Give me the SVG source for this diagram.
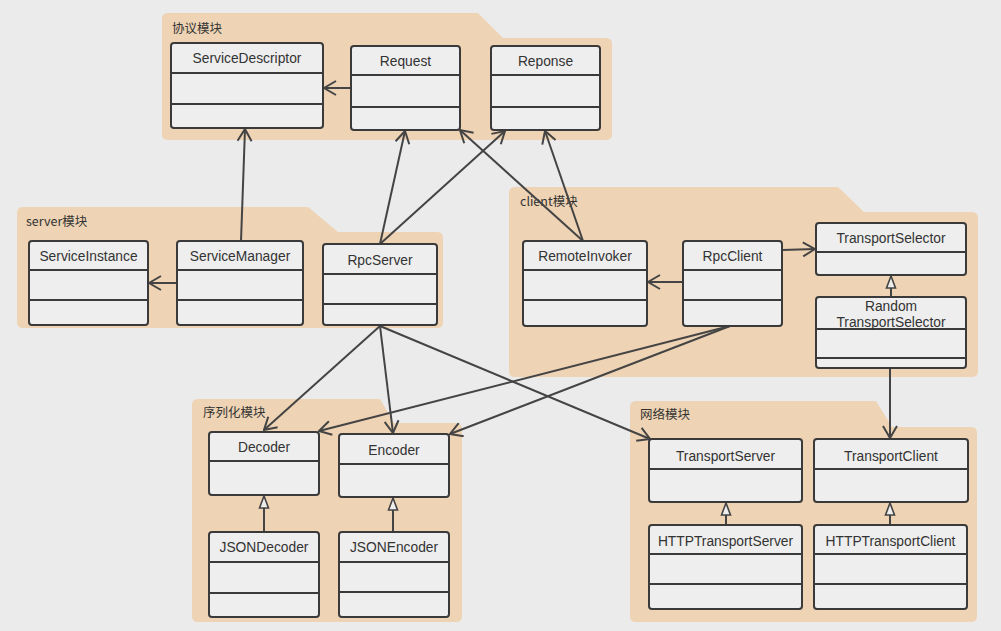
<svg xmlns="http://www.w3.org/2000/svg" width="1001" height="631" viewBox="0 0 1001 631">
<style>
.pkg{fill:#eed3b4;stroke:none}
.plabel{font-family:"Noto Sans CJK SC","Liberation Sans",sans-serif;font-size:12.5px;fill:#333}
.box{fill:#eeeeee;stroke:#3a3a3a;stroke-width:2}
.div{stroke:#3a3a3a;stroke-width:2}
.name{font-family:"Liberation Sans",Arial,sans-serif;font-size:13.8px;fill:#333;text-anchor:middle}
.conn{stroke:#444;stroke-width:2;fill:none}
.dep{marker-end:url(#open)}
.inh{marker-end:url(#tri)}
</style>
<defs>
<marker id="open" viewBox="0 0 14 16" refX="13" refY="8" markerWidth="14" markerHeight="16" markerUnits="userSpaceOnUse" orient="auto">
<path d="M1,1 L13,8 L1,15" fill="none" stroke="#444" stroke-width="2"/>
</marker>
<marker id="tri" viewBox="0 0 14 12" refX="13" refY="6" markerWidth="14" markerHeight="12" markerUnits="userSpaceOnUse" orient="auto">
<path d="M1,1.5 L13,6 L1,10.5 Z" fill="#eeeeee" stroke="#444" stroke-width="1.6"/>
</marker>
</defs>
<rect width="1001" height="631" fill="#ebebeb"/>

<g id="pkg-protocol">
<path class="pkg" d="M162,19 Q162,13 168,13 L478,13 L503,38 L606,38 Q612,38 612,44 L612,134 Q612,140 606,140 L168,140 Q162,140 162,134 Z"/>
<text class="plabel" x="172" y="33">协议模块</text>
</g>
<g id="pkg-server">
<path class="pkg" d="M17,213 Q17,207 23,207 L308,207 L338,232 L437,232 Q443,232 443,238 L443,322 Q443,328 437,328 L23,328 Q17,328 17,322 Z"/>
<text class="plabel" x="26" y="226">server模块</text>
</g>
<g id="pkg-client">
<path class="pkg" d="M509,193 Q509,187 515,187 L838,187 L864,212 L972,212 Q978,212 978,218 L978,371 Q978,377 972,377 L515,377 Q509,377 509,371 Z"/>
<text class="plabel" x="520" y="206">client模块</text>
</g>
<g id="pkg-serialize">
<path class="pkg" d="M192,405 Q192,399 198,399 L380,399 L394,423 L456,423 Q462,423 462,429 L462,616 Q462,622 456,622 L198,622 Q192,622 192,616 Z"/>
<text class="plabel" x="203" y="417">序列化模块</text>
</g>
<g id="pkg-network">
<path class="pkg" d="M630,407 Q630,401 636,401 L876,401 L892,427 L971,427 Q977,427 977,433 L977,616 Q977,622 971,622 L636,622 Q630,622 630,616 Z"/>
<text class="plabel" x="640" y="419">网络模块</text>
</g>

<g id="connectors">
<line class="conn dep" x1="351" y1="88" x2="324" y2="88"/>
<line class="conn dep" x1="241" y1="241" x2="245" y2="129"/>
<line class="conn dep" x1="177" y1="283" x2="149" y2="283"/>
<line class="conn dep" x1="380" y1="244" x2="405" y2="131"/>
<line class="conn dep" x1="380" y1="244" x2="505" y2="131"/>
<line class="conn dep" x1="583" y1="241" x2="460" y2="130"/>
<line class="conn dep" x1="583" y1="241" x2="545" y2="131"/>
<line class="conn dep" x1="683" y1="282" x2="648" y2="282"/>
<line class="conn dep" x1="782" y1="250" x2="815" y2="249"/>
<line class="conn inh" x1="891" y1="297" x2="891" y2="276"/>
<line class="conn dep" x1="890" y1="368" x2="890" y2="438"/>
<line class="conn dep" x1="380" y1="326" x2="264" y2="430"/>
<line class="conn dep" x1="380" y1="326" x2="393" y2="433"/>
<line class="conn dep" x1="380" y1="326" x2="650" y2="439"/>
<line class="conn dep" x1="730" y1="326" x2="319" y2="431"/>
<line class="conn dep" x1="730" y1="326" x2="450" y2="434"/>
<line class="conn inh" x1="264" y1="532" x2="264" y2="496"/>
<line class="conn inh" x1="393" y1="532" x2="393" y2="498"/>
<line class="conn inh" x1="726" y1="525" x2="726" y2="503"/>
<line class="conn inh" x1="890" y1="525" x2="890" y2="503"/>
</g>

<g id="ServiceDescriptor">
<rect class="box" x="171" y="43" width="152" height="85" rx="3"/>
<line class="div" x1="171" y1="73" x2="323" y2="73"/><line class="div" x1="171" y1="104" x2="323" y2="104"/>
<text class="name" x="247" y="63">ServiceDescriptor</text>
</g>
<g id="Request">
<rect class="box" x="351" y="46" width="109" height="84" rx="3"/>
<line class="div" x1="351" y1="75" x2="460" y2="75"/><line class="div" x1="351" y1="107" x2="460" y2="107"/>
<text class="name" x="405.5" y="66">Request</text>
</g>
<g id="Reponse">
<rect class="box" x="491" y="46" width="109" height="84" rx="3"/>
<line class="div" x1="491" y1="75" x2="600" y2="75"/><line class="div" x1="491" y1="107" x2="600" y2="107"/>
<text class="name" x="545.5" y="66">Reponse</text>
</g>
<g id="ServiceInstance">
<rect class="box" x="29" y="241" width="119" height="84" rx="3"/>
<line class="div" x1="29" y1="270" x2="148" y2="270"/><line class="div" x1="29" y1="300" x2="148" y2="300"/>
<text class="name" x="88.5" y="261">ServiceInstance</text>
</g>
<g id="ServiceManager">
<rect class="box" x="177" y="241" width="126" height="84" rx="3"/>
<line class="div" x1="177" y1="270" x2="303" y2="270"/><line class="div" x1="177" y1="300" x2="303" y2="300"/>
<text class="name" x="240" y="261">ServiceManager</text>
</g>
<g id="RpcServer">
<rect class="box" x="323" y="244" width="114" height="81" rx="3"/>
<line class="div" x1="323" y1="274" x2="437" y2="274"/><line class="div" x1="323" y1="304" x2="437" y2="304"/>
<text class="name" x="380" y="265">RpcServer</text>
</g>
<g id="RemoteInvoker">
<rect class="box" x="523" y="241" width="124" height="85" rx="3"/>
<line class="div" x1="523" y1="270" x2="647" y2="270"/><line class="div" x1="523" y1="300" x2="647" y2="300"/>
<text class="name" x="585" y="261">RemoteInvoker</text>
</g>
<g id="RpcClient">
<rect class="box" x="683" y="241" width="99" height="85" rx="3"/>
<line class="div" x1="683" y1="270" x2="782" y2="270"/><line class="div" x1="683" y1="300" x2="782" y2="300"/>
<text class="name" x="732.5" y="261">RpcClient</text>
</g>
<g id="TransportSelector">
<rect class="box" x="816" y="223" width="150" height="52" rx="3"/>
<line class="div" x1="816" y1="252" x2="966" y2="252"/>
<text class="name" x="891" y="243">TransportSelector</text>
</g>
<g id="RandomTransportSelector">
<rect class="box" x="816" y="297" width="150" height="71" rx="3"/>
<line class="div" x1="816" y1="329" x2="966" y2="329"/><line class="div" x1="816" y1="358" x2="966" y2="358"/>
<text class="name" x="891" y="311">Random</text>
<text class="name" x="891" y="326.5">TransportSelector</text>
</g>
<g id="Decoder">
<rect class="box" x="209" y="432" width="110" height="63" rx="3"/>
<line class="div" x1="209" y1="461" x2="319" y2="461"/>
<text class="name" x="264" y="452">Decoder</text>
</g>
<g id="Encoder">
<rect class="box" x="339" y="434" width="110" height="63" rx="3"/>
<line class="div" x1="339" y1="464" x2="449" y2="464"/>
<text class="name" x="394" y="455">Encoder</text>
</g>
<g id="JSONDecoder">
<rect class="box" x="209" y="532" width="110" height="85" rx="3"/>
<line class="div" x1="209" y1="562" x2="319" y2="562"/><line class="div" x1="209" y1="593" x2="319" y2="593"/>
<text class="name" x="264" y="552">JSONDecoder</text>
</g>
<g id="JSONEncoder">
<rect class="box" x="339" y="532" width="110" height="85" rx="3"/>
<line class="div" x1="339" y1="562" x2="449" y2="562"/><line class="div" x1="339" y1="592" x2="449" y2="592"/>
<text class="name" x="394" y="552">JSONEncoder</text>
</g>
<g id="TransportServer">
<rect class="box" x="649" y="439" width="153" height="63" rx="3"/>
<line class="div" x1="649" y1="469" x2="802" y2="469"/>
<text class="name" x="725.5" y="460.5">TransportServer</text>
</g>
<g id="TransportClient">
<rect class="box" x="814" y="439" width="154" height="63" rx="3"/>
<line class="div" x1="814" y1="469" x2="968" y2="469"/>
<text class="name" x="891" y="460.5">TransportClient</text>
</g>
<g id="HTTPTransportServer">
<rect class="box" x="649" y="525" width="153" height="84" rx="3"/>
<line class="div" x1="649" y1="554" x2="802" y2="554"/><line class="div" x1="649" y1="584" x2="802" y2="584"/>
<text class="name" x="725.5" y="545.5">HTTPTransportServer</text>
</g>
<g id="HTTPTransportClient">
<rect class="box" x="814" y="525" width="153" height="84" rx="3"/>
<line class="div" x1="814" y1="554" x2="967" y2="554"/><line class="div" x1="814" y1="584" x2="967" y2="584"/>
<text class="name" x="890.5" y="545.5">HTTPTransportClient</text>
</g>
</svg>
